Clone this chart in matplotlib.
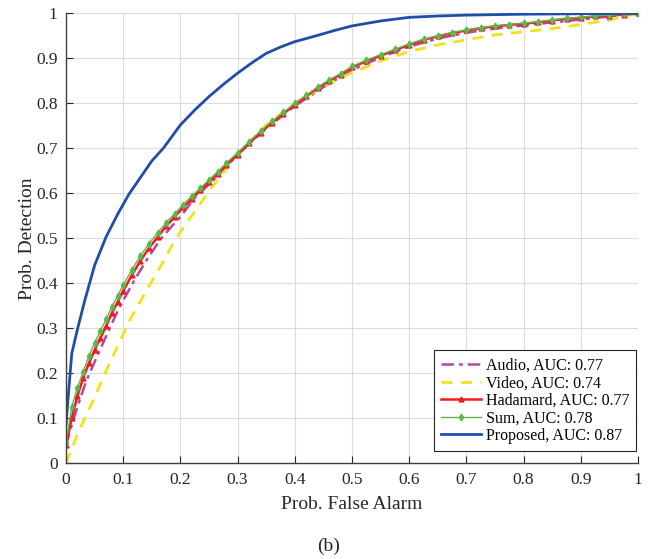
import matplotlib
matplotlib.use("Agg")
import matplotlib.pyplot as plt
import numpy as np

# Curvas ROC: probabilidad de deteccion vs falsa alarma para cada metodo
plt.rcParams["font.family"] = ["Liberation Serif", "DejaVu Serif"]

# malla comun de falsa alarma para Hadamard y Sum
fa_grid = [0, 0.01, 0.02, 0.03, 0.04, 0.05, 0.06, 0.07, 0.08, 0.09, 0.10,
           0.115, 0.13, 0.145, 0.16, 0.175, 0.19, 0.205, 0.22, 0.235, 0.25,
           0.265, 0.28, 0.30, 0.32, 0.34, 0.36, 0.38, 0.40, 0.42, 0.44, 0.46,
           0.48, 0.50, 0.525, 0.55, 0.575, 0.60, 0.625, 0.65, 0.675, 0.70,
           0.725, 0.75, 0.775, 0.80, 0.825, 0.85, 0.875, 0.90, 0.925, 0.95,
           0.975, 1.0]
sum_pd = [0.044, 0.126, 0.168, 0.204, 0.238, 0.268, 0.294, 0.320, 0.347, 0.372,
          0.396, 0.430, 0.461, 0.488, 0.512, 0.535, 0.555, 0.575, 0.594, 0.612,
          0.630, 0.648, 0.667, 0.690, 0.715, 0.738, 0.760, 0.780, 0.800, 0.818,
          0.836, 0.852, 0.866, 0.882, 0.896, 0.908, 0.920, 0.932, 0.942, 0.950,
          0.957, 0.963, 0.968, 0.972, 0.975, 0.978, 0.981, 0.985, 0.989, 0.991,
          0.994, 0.996, 0.998, 1.0]
hadamard_pd = [0.041, 0.100, 0.150, 0.190, 0.222, 0.252, 0.278, 0.305, 0.333,
               0.358, 0.383, 0.418, 0.450, 0.478, 0.503, 0.527, 0.548, 0.569,
               0.588, 0.607, 0.625, 0.643, 0.662, 0.686, 0.711, 0.735, 0.757,
               0.777, 0.797, 0.816, 0.834, 0.850, 0.864, 0.880, 0.894, 0.906,
               0.918, 0.930, 0.941, 0.949, 0.956, 0.962, 0.967, 0.971, 0.974,
               0.977, 0.980, 0.984, 0.988, 0.990, 0.993, 0.995, 0.997, 1.0]

audio_fa = [0, 0.01, 0.02, 0.036, 0.054, 0.071, 0.089, 0.10, 0.12, 0.14, 0.164,
            0.185, 0.20, 0.225, 0.246, 0.269, 0.30, 0.35, 0.40, 0.45, 0.50,
            0.55, 0.60, 0.65, 0.70, 0.75, 0.80, 0.85, 0.90, 0.95, 1.0]
audio_pd = [0.040, 0.085, 0.126, 0.185, 0.237, 0.285, 0.335, 0.362, 0.408,
            0.450, 0.496, 0.527, 0.548, 0.590, 0.615, 0.644, 0.686, 0.744,
            0.794, 0.836, 0.874, 0.902, 0.926, 0.944, 0.957, 0.966, 0.973,
            0.980, 0.986, 0.993, 1.0]

video_fa = [0, 0.02, 0.045, 0.07, 0.09, 0.11, 0.13, 0.15, 0.17, 0.19, 0.21,
            0.23, 0.25, 0.27, 0.29, 0.31, 0.35, 0.40, 0.45, 0.50, 0.55, 0.60,
            0.65, 0.70, 0.75, 0.80, 0.85, 0.90, 0.95, 1.0]
video_pd = [0.0, 0.065, 0.133, 0.205, 0.260, 0.315, 0.360, 0.405, 0.448, 0.495,
            0.533, 0.568, 0.605, 0.638, 0.670, 0.700, 0.752, 0.800, 0.838,
            0.868, 0.894, 0.915, 0.930, 0.941, 0.952, 0.959, 0.966, 0.975,
            0.985, 1.0]

prop_fa = [0, 0.002, 0.01, 0.02, 0.033, 0.05, 0.07, 0.09, 0.11, 0.13, 0.15,
           0.17, 0.20, 0.225, 0.25, 0.275, 0.30, 0.325, 0.35, 0.375, 0.40,
           0.44, 0.47, 0.50, 0.55, 0.60, 0.65, 0.70, 0.80, 0.90, 1.0]
prop_pd = [0.085, 0.120, 0.244, 0.298, 0.363, 0.440, 0.503, 0.553, 0.598,
           0.635, 0.672, 0.700, 0.752, 0.785, 0.815, 0.842, 0.867, 0.890,
           0.911, 0.925, 0.937, 0.951, 0.962, 0.972, 0.983, 0.991, 0.994,
           0.996, 0.998, 0.999, 1.0]

etiquetas = ["Audio, AUC: 0.77", "Video, AUC: 0.74", "Hadamard, AUC: 0.77",
             "Sum, AUC: 0.78", "Proposed, AUC: 0.87"]
ticks = np.round(np.arange(0, 1.01, 0.1), 1)
tick_labels = ["0", "0.1", "0.2", "0.3", "0.4", "0.5", "0.6", "0.7", "0.8",
               "0.9", "1"]

fig = plt.figure(figsize=(6.57, 5.59), dpi=100)
ax = fig.add_axes([0.1005, 0.1712, 0.8706, 0.805])

ax.plot(audio_fa, audio_pd, color="#b5489f", lw=1.8, ls=(0, (5, 2, 1.5, 2)),
        label=etiquetas[0])
ax.plot(video_fa, video_pd, color="#f2e21b", lw=2.0, ls=(0, (4, 3)),
        label=etiquetas[1])
ax.plot(fa_grid, hadamard_pd, color="#ee1d1d", lw=1.8, marker="^", ms=3.5,
        label=etiquetas[2])
ax.plot(fa_grid, sum_pd, color="#5cb84a", lw=1.0, marker="d", ms=3.5,
        label=etiquetas[3])
ax.plot(prop_fa, prop_pd, color="#1f4ea8", lw=2.0, label=etiquetas[4])

ax.set_xlim(0, 1)
ax.set_ylim(0, 1)
ax.set_xticks(ticks)
ax.set_yticks(ticks)
ax.set_xticklabels(tick_labels)
ax.set_yticklabels(tick_labels)
ax.tick_params(direction="in", length=5, width=0.8, labelsize=12.5,
               colors="#262626", pad=6)
ax.grid(True, color="#dcdcdc", lw=0.8)
ax.set_axisbelow(True)
for lado in ["top", "right"]:
    ax.spines[lado].set_visible(False)
for lado in ["left", "bottom"]:
    ax.spines[lado].set_color("#404040")
    ax.spines[lado].set_linewidth(1.0)

ax.set_xlabel("Prob. False Alarm", fontsize=14, color="#262626", labelpad=6)
ax.set_ylabel("Prob. Detection", fontsize=14, color="#262626", labelpad=0)

leg = ax.legend(loc="lower right", bbox_to_anchor=(0.997, 0.027), fontsize=11.5,
                fancybox=False, framealpha=1, edgecolor="#262626",
                handlelength=2.5, handletextpad=0.3, labelspacing=0.1,
                borderpad=0.45, borderaxespad=0)
leg.get_frame().set_linewidth(0.8)

fig.text(0.5, 0.008, "(b)", ha="center", va="bottom", fontsize=14,
         color="#262626")

fig.savefig("out.png", dpi=100)
